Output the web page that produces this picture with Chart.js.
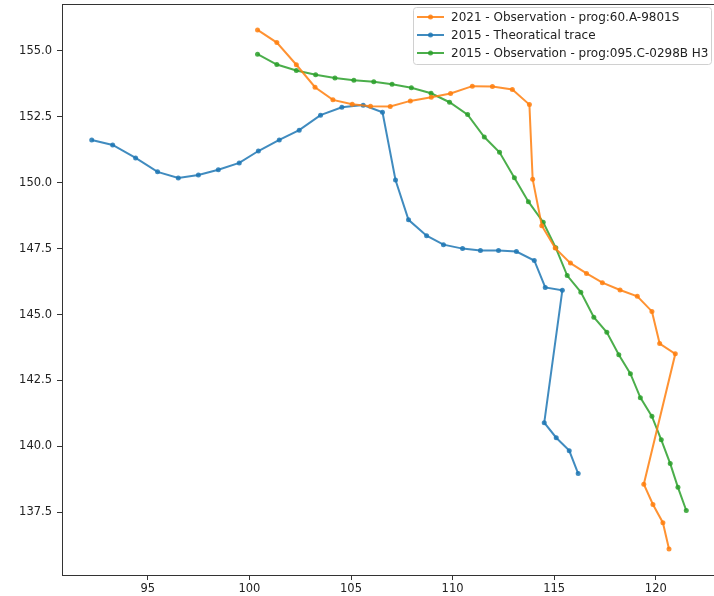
<!DOCTYPE html>
<html>
<head>
<meta charset="utf-8">
<script src="https://cdn.jsdelivr.net/npm/chart.js@4/dist/chart.umd.min.js"></script>
<style>
  html, body { margin: 0; padding: 0; background: #fff; overflow: hidden; }
  #wrap { width: 720px; height: 596px; }
</style>
</head>
<body>
<div id="wrap"><canvas id="trackChart"></canvas></div>
<script>
// series values

const obs2021X = [100.4, 101.35, 102.31, 103.23, 104.11, 105.06, 105.96, 106.93, 107.92, 108.95,
  109.9, 110.97, 111.96, 112.94, 113.78, 113.94, 114.39, 115.05, 115.8, 116.59,
  117.37, 118.24, 119.09, 119.81, 120.19, 120.96, 119.41, 119.86, 120.35, 120.65];
const obs2021Y = [155.79, 155.31, 154.47, 153.62, 153.14, 152.97, 152.9, 152.89, 153.1, 153.24,
  153.38, 153.66, 153.65, 153.53, 152.96, 150.13, 148.37, 147.52, 146.95, 146.56,
  146.21, 145.93, 145.69, 145.12, 143.9, 143.51, 138.57, 137.8, 137.11, 136.11];

const theo2015X = [92.24, 93.27, 94.4, 95.48, 96.5, 97.49, 98.47, 99.5, 100.44, 101.47,
  102.45, 103.5, 104.55, 105.6, 106.55, 107.19, 107.83, 108.72, 109.55, 110.49,
  111.37, 112.26, 113.14, 114.02, 114.56, 115.4, 114.51, 115.1, 115.74, 116.18];
const theo2015Y = [151.62, 151.43, 150.94, 150.41, 150.18, 150.29, 150.49, 150.75, 151.2, 151.62,
  151.99, 152.56, 152.86, 152.94, 152.67, 150.1, 148.59, 147.99, 147.65, 147.5,
  147.43, 147.43, 147.39, 147.05, 146.03, 145.92, 140.9, 140.33, 139.84, 138.97];

const obs2015X = [100.4, 101.35, 102.31, 103.26, 104.21, 105.14, 106.12, 107.02, 107.97, 108.94,
  109.85, 110.74, 111.56, 112.31, 113.04, 113.73, 114.46, 115.08, 115.64, 116.31,
  116.95, 117.59, 118.18, 118.75, 119.24, 119.81, 120.27, 120.71, 121.09, 121.5];
const obs2015Y = [154.87, 154.48, 154.25, 154.09, 153.97, 153.88, 153.83, 153.73, 153.6, 153.39,
  153.05, 152.58, 151.73, 151.15, 150.19, 149.28, 148.5, 147.53, 146.48, 145.85,
  144.9, 144.33, 143.48, 142.76, 141.85, 141.14, 140.25, 139.35, 138.45, 137.57];

const seriesLabels = [
  '2021 - Observation - prog:60.A-9801S',
  '2015 - Theoratical trace',
  '2015 - Observation - prog:095.C-0298B H3'
];
const seriesColors = ['rgba(255,127,14,0.85)', 'rgba(31,119,180,0.85)', 'rgba(44,160,44,0.85)'];

const xTicks = [95, 100, 105, 110, 115, 120];
const yTicks = [137.5, 140.0, 142.5, 145.0, 147.5, 150.0, 152.5, 155.0];

const toPoints = (xs, ys) => xs.map((x, i) => ({ x: x, y: ys[i] }));
const allX = [...obs2021X, ...theo2015X, ...obs2015X];
const allY = [...obs2021Y, ...theo2015Y, ...obs2015Y];
// matplotlib style 5% margins
const xPad = (Math.max(...allX) - Math.min(...allX)) * 0.05;
const yPad = (Math.max(...allY) - Math.min(...allY)) * 0.05;

const FONT = 'DejaVu Sans';

// axes frame + legend in the upper right, like matplotlib
const framePlugin = {
  id: 'frame',
  afterDraw(chart) {
    const { ctx, chartArea: a } = chart;
    ctx.save();
    ctx.strokeStyle = '#333';
    ctx.lineWidth = 1;
    ctx.strokeRect(a.left + 0.5, a.top + 0.5, a.right - a.left, a.bottom - a.top);

    // legend box
    const bx = 413.5, by = 7.5, bw = 298, bh = 57;
    ctx.fillStyle = 'rgba(255,255,255,0.8)';
    ctx.strokeStyle = '#d0d0d0';
    ctx.beginPath();
    ctx.roundRect(bx, by, bw, bh, 3);
    ctx.fill();
    ctx.stroke();

    ctx.font = '12px "' + FONT + '"';
    ctx.textBaseline = 'middle';
    chart.data.datasets.forEach((ds, i) => {
      const cy = 17 + i * 18;
      ctx.strokeStyle = ds.borderColor;
      ctx.lineWidth = 2;
      ctx.beginPath();
      ctx.moveTo(417, cy);
      ctx.lineTo(444, cy);
      ctx.stroke();
      ctx.fillStyle = ds.borderColor;
      ctx.beginPath();
      ctx.arc(430.5, cy, 2.5, 0, Math.PI * 2);
      ctx.fill();
      ctx.fillStyle = '#222';
      ctx.fillText(ds.label, 451, cy + 1);
    });
    ctx.restore();
  }
};

const ctx = document.getElementById('trackChart');
const chart = new Chart(ctx, {
  type: 'scatter',
  data: {
    datasets: [
      { data: toPoints(obs2021X, obs2021Y) },
      { data: toPoints(theo2015X, theo2015Y) },
      { data: toPoints(obs2015X, obs2015Y) }
    ].map((d, i) => Object.assign(d, {
      label: seriesLabels[i],
      borderColor: seriesColors[i],
      backgroundColor: seriesColors[i],
      showLine: true,
      borderWidth: 2,
      pointRadius: 2.5,
      pointBorderWidth: 0,
      tension: 0
    }))
  },
  options: {
    responsive: true,
    maintainAspectRatio: false,
    animation: false,
    layout: { padding: { top: 3, right: 2, left: 0, bottom: 0 } },
    plugins: {
      legend: { display: false },
      tooltip: { enabled: false }
    },
    scales: {
      x: {
        type: 'linear',
        min: Math.min(...allX) - xPad,
        max: Math.max(...allX) + xPad,
        afterBuildTicks: s => { s.ticks = xTicks.map(v => ({ value: v })); },
        afterFit: s => { s.height = 21; s.paddingLeft = 0; s.paddingRight = 0; },
        grid: { drawOnChartArea: false, drawTicks: true, tickLength: 5, color: '#333' },
        border: { display: false },
        ticks: { color: '#222', padding: 2, font: { family: FONT, size: 11.5 }, maxRotation: 0,
          callback: v => String(v) }
      },
      y: {
        type: 'linear',
        min: Math.min(...allY) - yPad,
        max: Math.max(...allY) + yPad,
        afterBuildTicks: s => { s.ticks = yTicks.map(v => ({ value: v })); },
        afterFit: s => { s.width = 62; s.paddingTop = 0; s.paddingBottom = 0; },
        grid: { drawOnChartArea: false, drawTicks: true, tickLength: 5, color: '#333' },
        border: { display: false },
        ticks: { color: '#222', padding: 5, font: { family: FONT, size: 11.5 },
          callback: v => v.toFixed(1) }
      }
    }
  },
  plugins: [framePlugin]
});
</script>
</body>
</html>
